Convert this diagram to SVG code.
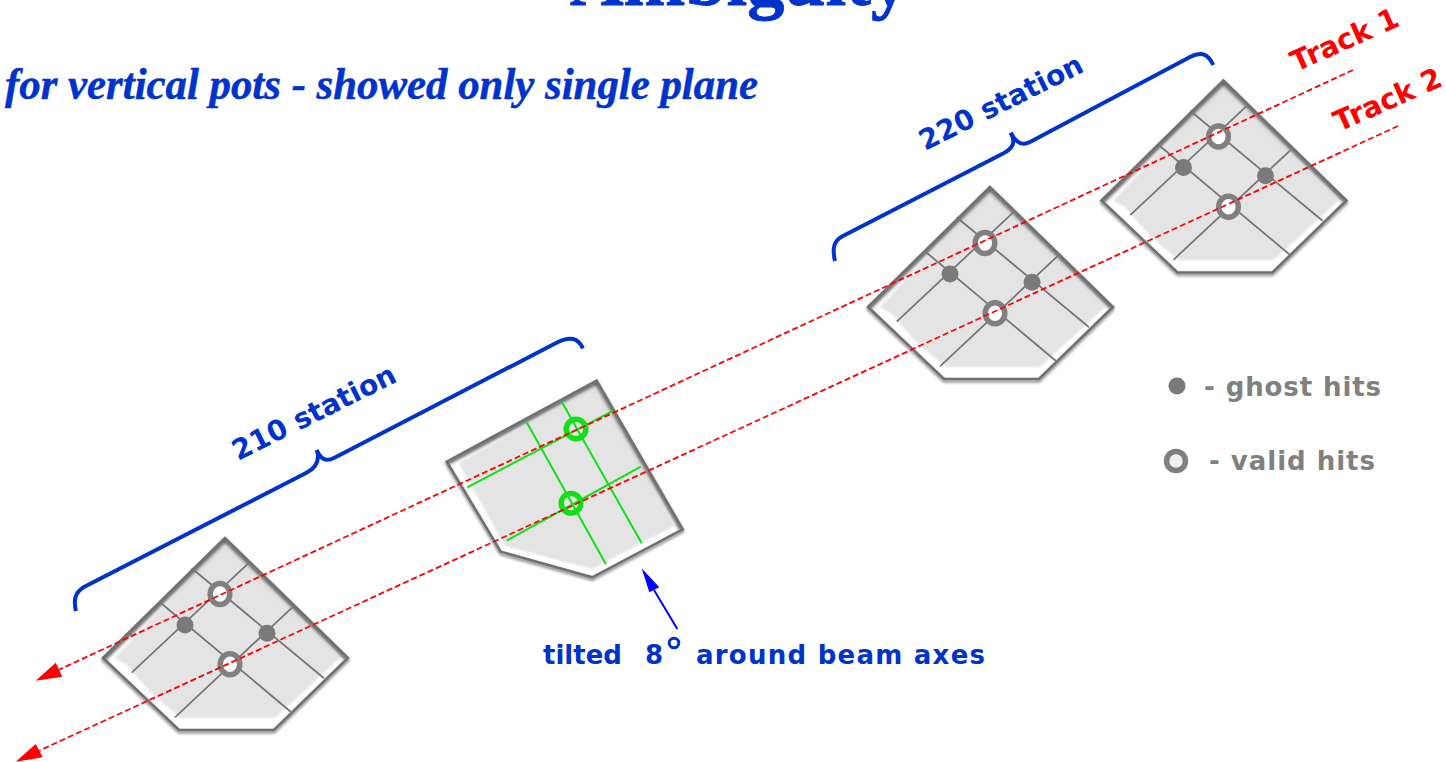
<svg xmlns="http://www.w3.org/2000/svg" xmlns:xlink="http://www.w3.org/1999/xlink" width="1446" height="762" viewBox="0 0 1446 762">
<style>
.blue{fill:#0033cc}
.dj{font-family:"DejaVu Sans",Verdana,sans-serif;font-weight:bold}
.lbl{font-size:26px}
.grid{stroke:#777;stroke-width:1.8;fill:none}
.ggrid{stroke:#10e018;stroke-width:2;fill:none}
.valid{fill:#fff;stroke:#808080;stroke-width:5.5}
.gvalid{fill:none;stroke:#10e018;stroke-width:5.5}
.ghost{fill:#7a7a7a}
.track{fill:none;stroke:#f00;stroke-width:1.8;stroke-dasharray:6 3}
.brace{fill:none;stroke:#0033cc;stroke-width:4;stroke-linecap:butt}
.outline{fill:none;stroke:#707070;stroke-width:2.6;stroke-linejoin:miter;filter:url(#shadow)}
.shade{fill:none;stroke:#9a9a9a;stroke-width:6;filter:url(#soft)}
.inner{fill:#e4e4e4;filter:url(#soft2)}
</style>
<defs>
<filter id="shadow" x="-10%" y="-10%" width="120%" height="125%"><feGaussianBlur in="SourceAlpha" stdDeviation="1.5"/><feOffset dy="2"/><feComponentTransfer><feFuncA type="linear" slope="0.55"/></feComponentTransfer><feMerge><feMergeNode/><feMergeNode in="SourceGraphic"/></feMerge></filter>
<filter id="soft" x="-10%" y="-10%" width="120%" height="120%"><feGaussianBlur stdDeviation="2.2"/></filter>
<filter id="soft2" x="-10%" y="-10%" width="120%" height="120%"><feGaussianBlur stdDeviation="1"/></filter>
<clipPath id="clipPent"><polygon points="0,0 -122,120 -46,192 49,192 123,120"/></clipPath>
<clipPath id="clipTilt"><polygon points="596.7,380.7 446.7,461.7 500.7,551.7 592.3,577.3 682.7,529.3"/></clipPath>
<g id="pot">
<polygon points="0,0 -122,120 -46,192 49,192 123,120" fill="#fff"/>
<polygon class="inner" points="0,4 -110,120 -98,127 -73,156 -44,180 50,180 76,156 102,132 115,120"/>
<g clip-path="url(#clipPent)"><path class="shade" d="M-122,120 L0,0 L123,120"/></g>
<polygon class="outline" points="0,0 -122,120 -46,192 49,192 123,120"/>
<path class="grid" d="M-33.3,30.3 L99,140.3 M-65.7,63.7 L65.7,173.7 M23.3,25.3 L-93.3,134.7 M67.3,69.3 L-50,179.3"/>
<ellipse class="valid" cx="-5" cy="56" rx="9.8" ry="10.5"/>
<ellipse class="valid" cx="5" cy="126.3" rx="9.8" ry="10.5"/>
<circle class="ghost" cx="-40" cy="87" r="8.5"/>
<circle class="ghost" cx="42" cy="95.3" r="8.5"/>
</g>
</defs>

<g id="title"><text x="570" y="5" font-family="'Liberation Serif','Times New Roman',serif" font-weight="bold" font-size="73.5" class="blue" stroke="#0033cc" stroke-width="0.8" textLength="338" lengthAdjust="spacingAndGlyphs">Ambiguity</text></g>
<g id="subtitle"><text x="5" y="99" font-family="'Liberation Serif','Times New Roman',serif" font-weight="bold" font-style="italic" font-size="44" class="blue" stroke="#0033cc" stroke-width="0.5" textLength="753" lengthAdjust="spacingAndGlyphs">for vertical pots - showed only single plane</text></g>

<g id="pot-210-a" transform="translate(225,538)"><use href="#pot" xlink:href="#pot"/></g>

<g id="pot-210-b">
<polygon points="596.7,380.7 446.7,461.7 500.7,551.7 592.3,577.3 682.7,529.3" fill="#fff"/>
<polygon class="inner" points="596.7,385 459,463 475,492 505,546 592.3,569 640,544 674,526"/>
<g clip-path="url(#clipTilt)"><path class="shade" d="M446.7,461.7 L596.7,380.7 L682.7,529.3"/></g>
<polygon class="outline" points="596.7,380.7 446.7,461.7 500.7,551.7 592.3,577.3 682.7,529.3"/>
<path class="ggrid" d="M613.3,410.7 L467.3,487.3 M640.7,466.7 L506.7,540.7 M561.7,401.7 L641.7,543.3 M526.7,422.3 L606,564.3"/>
<circle class="gvalid" cx="576" cy="429" r="9.8"/>
<circle class="gvalid" cx="571" cy="503.3" r="9.8"/>
</g>

<g id="pot-220-a" transform="translate(990,187)"><use href="#pot" xlink:href="#pot"/></g>
<g id="pot-220-b" transform="translate(1223.5,80.5)"><use href="#pot" xlink:href="#pot"/></g>

<g id="connectors">
<path class="track" d="M1353,70 L59,669.7"/>
<path class="track" d="M1398,126 L39.2,750.7"/>
<polygon points="35.7,680.7 55.7,662.7 62.3,676.7" fill="#f00"/>
<polygon points="15.7,761.7 35.7,744 42.7,757.3" fill="#f00"/>
<path class="brace" d="M75.9,611 C73,598 76,592 84,587 L306,473 C316,468 320,460 316.8,450 C320,459 326,462 334,458 L558,342 C570,336 578,338 583,348.3"/>
<path class="brace" d="M835,261 C832,248 834,241 842,236.5 L1004,153 C1013,148 1016,142 1010.7,132.7 C1016,143 1022,146 1030,142 L1190,57 C1202,51 1208,54 1213.3,65"/>
<path d="M677.3,629 L654,590" fill="none" stroke="#0000ff" stroke-width="2"/>
<polygon points="641.7,568.3 649.3,592.3 659.3,587.3" fill="#0000ff"/>
</g>

<g id="labels">
<text class="dj blue" font-size="28" transform="translate(238,461) rotate(-26.5)">210 station</text>
<text class="dj blue" font-size="28" transform="translate(925,151) rotate(-26.5)">220 station</text>
<text class="dj" font-size="28.5" fill="#f00" transform="translate(1296,72) rotate(-24)">Track 1</text>
<text class="dj" font-size="28.5" fill="#f00" transform="translate(1339,132) rotate(-24)">Track 2</text>
<text class="dj lbl blue" x="543" y="664">tilted</text>
<text class="dj lbl blue" x="645" y="664">8</text>
<circle cx="674" cy="643" r="4.8" fill="none" stroke="#0033cc" stroke-width="3"/>
<text class="dj lbl blue" x="696" y="664" textLength="289" lengthAdjust="spacing">around beam axes</text>
</g>

<g id="legend">
<circle class="ghost" cx="1177" cy="386" r="8.5"/>
<text class="dj lbl" fill="#808080" x="1204" y="396" textLength="177" lengthAdjust="spacing">- ghost hits</text>
<circle cx="1176" cy="461" r="9.5" fill="#f0f0f0" stroke="#808080" stroke-width="5.5"/>
<text class="dj lbl" fill="#808080" x="1209" y="470" textLength="166" lengthAdjust="spacing">- valid hits</text>
</g>
</svg>
